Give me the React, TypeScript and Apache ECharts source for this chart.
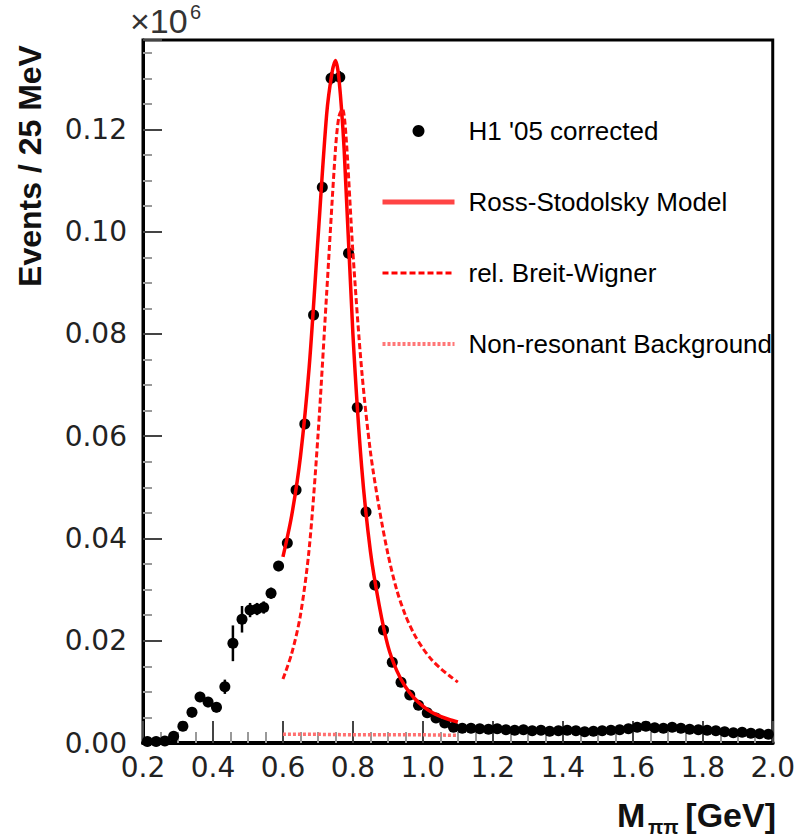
import React, { useEffect, useRef } from "react";
import * as echarts from "echarts";

// ---- data (events in units of 10^6 per 25 MeV) ----
const dataMass = [
  0.2125, 0.2375, 0.2625, 0.2875, 0.314, 0.34, 0.363, 0.386, 0.41, 0.434,
  0.457, 0.483, 0.506, 0.526, 0.545, 0.566, 0.5875, 0.6125, 0.6375, 0.6625,
  0.6875, 0.7125, 0.7375, 0.7625, 0.7875, 0.8125, 0.8375, 0.8625, 0.8875, 0.9125,
  0.9375, 0.9625, 0.9875, 1.0125, 1.0375, 1.0625, 1.0875, 1.1125,
  1.1375, 1.1625, 1.1875, 1.2125, 1.2375, 1.2625, 1.2875, 1.3125, 1.3375, 1.3625,
  1.3875, 1.4125, 1.4375, 1.4625, 1.4875, 1.5125, 1.5375, 1.5625, 1.5875, 1.6125,
  1.6375, 1.6625, 1.6875, 1.7125, 1.7375, 1.7625, 1.7875, 1.8125, 1.8375, 1.8625,
  1.8875, 1.9125, 1.9375, 1.9625, 1.9875,
];
const dataEvents = [
  0.0003, 0.0003, 0.0004, 0.0013, 0.0033, 0.006, 0.009, 0.008, 0.007, 0.011,
  0.0195, 0.0242, 0.026, 0.0262, 0.0265, 0.0293, 0.0346, 0.0391, 0.0495, 0.0624,
  0.0837, 0.1087, 0.13, 0.1302, 0.0958, 0.0656, 0.0452, 0.0309, 0.0221, 0.0158,
  0.0119, 0.0094, 0.0074, 0.0059, 0.0049, 0.0039, 0.0031, 0.0029,
  0.0029, 0.0028, 0.0027, 0.0028, 0.0026, 0.0025, 0.0026, 0.0024, 0.0025, 0.0023,
  0.0024, 0.0025, 0.0024, 0.0022, 0.0023, 0.0024, 0.0025, 0.0026, 0.0028, 0.0031,
  0.0033, 0.003, 0.0029, 0.0031, 0.0029, 0.0027, 0.0026, 0.0025, 0.0024, 0.0022,
  0.002, 0.0021, 0.0019, 0.0018, 0.0017,
];
const dataErrors = [
  0.0003, 0.0003, 0.0003, 0.0004, 0.0006, 0.0008, 0.0008, 0.0008, 0.0008, 0.0012,
  0.0033, 0.0024, 0.0012, 0.001, 0.001, 0.0009, 0.0008, 0.0008, 0.0008, 0.0008,
  0.0008, 0.0009, 0.001, 0.001, 0.0009, 0.0008, 0.0008, 0.0008, 0.0007, 0.0007,
  0.0006, 0.0006, 0.0006, 0.0006, 0.0006, 0.0006, 0.0006, 0.0006,
  0.0006, 0.0006, 0.0006, 0.0006, 0.0006, 0.0005, 0.0006, 0.0005, 0.0006, 0.0005,
  0.0005, 0.0006, 0.0005, 0.0005, 0.0005, 0.0006, 0.0006, 0.0006, 0.0006, 0.0007,
  0.0007, 0.0006, 0.0006, 0.0006, 0.0006, 0.0006, 0.0005, 0.0005, 0.0005, 0.0005,
  0.0005, 0.0005, 0.0005, 0.0005, 0.0005,
];
const binHalfWidth = 0.0125;

const rsMass = [
  0.6, 0.625, 0.65, 0.675, 0.7, 0.725, 0.74, 0.75, 0.76, 0.775, 0.8, 0.825,
  0.85, 0.875, 0.9, 0.925, 0.95, 0.975, 1.0, 1.025, 1.05, 1.075, 1.1,
];
const rsEvents = [
  0.0364, 0.0445, 0.056, 0.0735, 0.0985, 0.123, 0.131, 0.1335, 0.13, 0.116, 0.08, 0.054,
  0.0375, 0.027, 0.019, 0.0142, 0.011, 0.0088, 0.0072, 0.006, 0.0052, 0.0046, 0.0041,
];
const bwMass = [
  0.6, 0.625, 0.65, 0.675, 0.7, 0.725, 0.75, 0.76, 0.77, 0.78, 0.8, 0.825,
  0.85, 0.875, 0.9, 0.925, 0.95, 0.975, 1.0, 1.025, 1.05, 1.075, 1.1,
];
const bwEvents = [
  0.0125, 0.0175, 0.025, 0.038, 0.06, 0.088, 0.116, 0.1225, 0.124, 0.119, 0.096, 0.073,
  0.057, 0.046, 0.037, 0.03, 0.025, 0.0213, 0.0185, 0.0163, 0.0146, 0.0132, 0.0119,
];
const bkgMass = [0.6, 0.7, 0.8, 0.9, 1.0, 1.1];
const bkgEvents = [0.0017, 0.0017, 0.0016, 0.0016, 0.0016, 0.0015];

const xTicks = [0.2, 0.4, 0.6, 0.8, 1.0, 1.2, 1.4, 1.6, 1.8, 2.0];
const yTicks = [0.0, 0.02, 0.04, 0.06, 0.08, 0.1, 0.12];

const seriesNames = [
  "H1 '05 corrected",
  "Ross-Stodolsky Model",
  "rel. Breit-Wigner",
  "Non-resonant Background",
];

const FONT = "'Liberation Sans', Arial, Helvetica, sans-serif";
const TICKFONT = "'DejaVu Sans', 'Liberation Sans', Arial, sans-serif";

export default function App() {
  const ref = useRef<HTMLDivElement>(null);

  useEffect(() => {
    if (!ref.current) return;
    const chart = echarts.init(ref.current, undefined, { renderer: "svg" });

    const points = dataMass.map((m, i) => [m, dataEvents[i]]);
    const errs = dataMass.map((m, i) => [m, dataEvents[i], dataErrors[i]]);
    const zip = (a: number[], b: number[]) => a.map((v, i) => [v, b[i]]);
    const hidden = { opacity: 0 };

    const option: any = {
      animation: false,
      textStyle: { fontFamily: FONT },
      grid: {
        left: 143,
        right: 22,
        top: 40,
        bottom: 94,
        show: true,
        borderColor: "#000",
        borderWidth: 3,
        backgroundColor: "transparent",
      },
      xAxis: {
        type: "value",
        min: xTicks[0],
        max: xTicks[xTicks.length - 1],
        interval: 0.2,
        axisLine: { show: true, lineStyle: { color: "#000", width: 4 } },
        axisTick: { show: true, inside: true, length: 22, lineStyle: { color: "#444", width: 2 } },
        minorTick: { show: true, splitNumber: 4, length: 11, lineStyle: { color: "#999", width: 2 } },
        splitLine: { show: false },
        axisLabel: {
          fontSize: 28,
          color: "#222",
          margin: 10,
          fontFamily: TICKFONT,
          formatter: (v: number) => v.toFixed(1),
        },
      },
      yAxis: {
        type: "value",
        min: yTicks[0],
        max: 0.1375,
        interval: 0.02,
        axisLine: { show: true, lineStyle: { color: "#000", width: 3 } },
        axisTick: { show: true, inside: true, length: 19, lineStyle: { color: "#444", width: 2 } },
        minorTick: { show: true, splitNumber: 4, length: 9, lineStyle: { color: "#999", width: 2 } },
        splitLine: { show: false },
        axisLabel: {
          fontSize: 28,
          color: "#222",
          margin: 16,
          fontFamily: TICKFONT,
          showMaxLabel: false,
          formatter: (v: number) => (v > 0.125 ? "" : v.toFixed(2)),
        },
      },
      legend: {
        orient: "vertical",
        left: 375,
        top: 113,
        itemWidth: 72,
        itemHeight: 12,
        itemGap: 45,
        textStyle: { fontSize: 26, color: "#000", fontFamily: FONT, padding: [0, 0, 0, 9] },
        data: [
          { name: seriesNames[0], icon: "circle", itemStyle: { color: "#000", opacity: 1 } },
          { name: seriesNames[1], itemStyle: hidden, lineStyle: { color: "#f44", width: 5 } },
          { name: seriesNames[2], itemStyle: hidden, lineStyle: { color: "#f00", width: 3, type: [6, 3] } },
          { name: seriesNames[3], itemStyle: hidden, lineStyle: { color: "#f77", width: 4, type: [3, 2] } },
        ],
      },
      graphic: [
        {
          type: "text",
          x: 130,
          y: 21,
          style: { text: "×10", fontSize: 34, fill: "#333", fontFamily: FONT, verticalAlign: "middle" },
        },
        {
          type: "text",
          x: 190,
          y: 12,
          style: { text: "6", fontSize: 20, fill: "#333", fontFamily: FONT, verticalAlign: "middle" },
        },
        {
          type: "text",
          x: 30,
          y: 166,
          rotation: Math.PI / 2,
          style: {
            text: "Events / 25 MeV",
            fontSize: 32,
            fontWeight: "bold",
            fill: "#111",
            fontFamily: FONT,
            align: "center",
            verticalAlign: "middle",
          },
        },
        {
          type: "text",
          x: 617,
          y: 815,
          style: { text: "M", fontSize: 34, fontWeight: "bold", fill: "#111", fontFamily: FONT, verticalAlign: "middle" },
        },
        {
          type: "text",
          x: 648,
          y: 827,
          style: { text: "ππ", fontSize: 20, fontWeight: "bold", fill: "#111", fontFamily: FONT, verticalAlign: "middle" },
        },
        {
          type: "text",
          x: 776,
          y: 815,
          style: { text: "[GeV]", fontSize: 34, fontWeight: "bold", fill: "#111", fontFamily: FONT, align: "right", verticalAlign: "middle" },
        },
      ],
      series: [
        {
          name: seriesNames[0],
          type: "scatter",
          data: points,
          symbol: "circle",
          symbolSize: 11,
          itemStyle: { color: "#000", opacity: 1 },
          z: 5,
        },
        {
          name: "errors",
          type: "custom",
          data: errs,
          encode: { x: 0, y: 1 },
          z: 4,
          renderItem: (params: any, api: any) => {
            const x = api.value(0);
            const y = api.value(1);
            const e = api.value(2);
            const top = api.coord([x, y + e]);
            const bot = api.coord([x, Math.max(0, y - e)]);
            const l = api.coord([x - binHalfWidth, y]);
            const r = api.coord([x + binHalfWidth, y]);
            return {
              type: "group",
              children: [
                {
                  type: "line",
                  shape: { x1: top[0], y1: top[1] - 1, x2: bot[0], y2: bot[1] + 1 },
                  style: { stroke: "#000", lineWidth: 2.5 },
                },
                {
                  type: "line",
                  shape: { x1: l[0], y1: l[1], x2: r[0], y2: r[1] },
                  style: { stroke: "#000", lineWidth: 2 },
                },
              ],
            };
          },
        },
        {
          name: seriesNames[1],
          type: "line",
          data: zip(rsMass, rsEvents),
          symbol: "none",
          smooth: 0.3,
          lineStyle: { color: "#ff0000", width: 3.5 },
          itemStyle: { color: "#ff0000" },
          z: 6,
        },
        {
          name: seriesNames[2],
          type: "line",
          data: zip(bwMass, bwEvents),
          symbol: "none",
          smooth: 0.3,
          lineStyle: { color: "#ff1010", width: 3, type: [6, 3] },
          itemStyle: { color: "#ff1010" },
          z: 6,
        },
        {
          name: seriesNames[3],
          type: "line",
          data: zip(bkgMass, bkgEvents),
          symbol: "none",
          lineStyle: { color: "#ff7070", width: 3.5, type: [3, 2] },
          itemStyle: { color: "#ff7070" },
          z: 6,
        },
      ],
    };

    chart.setOption(option);
    return () => chart.dispose();
  }, []);

  return (
    <div
      ref={ref}
      style={{ position: "absolute", left: 0, top: 0, width: 798, height: 837, background: "#fff" }}
    />
  );
}
